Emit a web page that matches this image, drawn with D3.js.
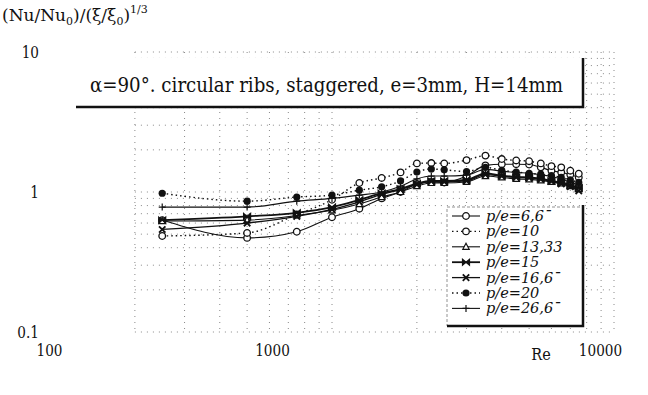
<!DOCTYPE html>
<html>
<head>
<meta charset="utf-8">
<script src="https://cdn.jsdelivr.net/npm/d3@7"></script>
<style>
  body { margin: 0; background: #fff; }
</style>
</head>
<body>
<div id="chart"></div>
<script>
// Reynolds numbers where points were measured
const reValues = [250, 500, 750, 1000, 1250, 1500, 1750, 2000, 2250, 2500, 3000, 3500, 4000, 4500, 5000, 5500, 6000, 6500, 7000, 7500]

// (Nu/Nu0)/(xi/xi0)^1/3 for each p/e
const pe667 = [0.63, 0.47, 0.52, 0.66, 0.76, 0.9, 1.0, 1.14, 1.18, 1.17, 1.3, 1.55, 1.58, 1.58, 1.57, 1.5, 1.42, 1.38, 1.33, 1.27]
const pe10 = [0.485, 0.51, 0.69, 0.88, 1.16, 1.26, 1.38, 1.6, 1.61, 1.6, 1.69, 1.82, 1.72, 1.68, 1.66, 1.6, 1.53, 1.5, 1.42, 1.35]
const pe1333 = [0.62, 0.63, 0.68, 0.74, 0.82, 0.92, 1.0, 1.1, 1.16, 1.16, 1.18, 1.3, 1.27, 1.24, 1.23, 1.21, 1.18, 1.15, 1.1, 1.05]
const pe15 = [0.63, 0.67, 0.71, 0.78, 0.88, 0.98, 1.05, 1.15, 1.2, 1.2, 1.22, 1.36, 1.31, 1.28, 1.27, 1.25, 1.2, 1.17, 1.12, 1.07]
const pe1667 = [0.54, 0.6, 0.67, 0.75, 0.85, 0.96, 1.04, 1.13, 1.19, 1.18, 1.2, 1.33, 1.3, 1.27, 1.26, 1.23, 1.19, 1.14, 1.09, 1.02]
const pe20 = [0.98, 0.86, 0.92, 0.95, 1.03, 1.09, 1.2, 1.39, 1.46, 1.44, 1.4, 1.5, 1.43, 1.39, 1.36, 1.34, 1.31, 1.27, 1.22, 1.17]
const pe2667 = [0.78, 0.78, 0.86, 0.9, 0.95, 1.0, 1.1, 1.24, 1.3, 1.3, 1.32, 1.45, 1.41, 1.38, 1.36, 1.33, 1.29, 1.24, 1.18, 1.12]

const seriesNames = ['6,6¯', '10', '13,33', '15', '16,6¯', '20', '26,6¯']
const seriesValues = [pe667, pe10, pe1333, pe15, pe1667, pe20, pe2667]

const xTickLabels = [100, 1000, 10000]
const yTickLabels = [0.1, 1, 10]
const titleText = 'α=90°. circular ribs, staggered, e=3mm, H=14mm'

const width = 648
const height = 395
const serif = 'DejaVu Serif'

const x = d3.scaleLog().domain([100, 10000]).range([50, 614])
const y = d3.scaleLog().domain([0.1, 10]).range([332, 52])
// printed label row of the scan is not aligned with the grid
const xLabel = d3.scaleLog().domain([100, 1000, 10000]).range([49, 272, 600])

const svg = d3.select('#chart').append('svg')
  .attr('width', width)
  .attr('height', height)
  .attr('font-family', serif)
  .style('display', 'block')

// squeeze DejaVu Serif towards the narrow Times look of the scan
function condense(sel, k) {
  sel.each(function () {
    const w = this.getComputedTextLength()
    d3.select(this)
      .attr('textLength', w * k)
      .attr('lengthAdjust', 'spacingAndGlyphs')
  })
}

// faint dotted grid
const grid = svg.append('g').attr('class', 'grid')
  .attr('stroke', '#888')
  .attr('stroke-width', 1)
  .attr('stroke-dasharray', '1,5')
const xGrid = d3.range(2, 10).map(d => d * 100).concat(d3.range(1, 11).map(d => d * 1000))
const yGrid = d3.range(1, 10).map(d => d * 0.1).concat(d3.range(1, 11))
grid.selectAll('.vx')
  .data(xGrid)
  .join('line')
  .attr('x1', d => x(d)).attr('x2', d => x(d))
  .attr('y1', y(10)).attr('y2', y(0.1))
grid.selectAll('.hy')
  .data(yGrid)
  .join('line')
  .attr('x1', x(200)).attr('x2', x(10000))
  .attr('y1', d => y(d)).attr('y2', d => y(d))

// y axis labels
const yAxis = d3.axisLeft(y).tickValues(yTickLabels).tickSize(0).tickPadding(0)
  .tickFormat(d => d === 0.1 ? '0.1' : String(d))
svg.append('g')
  .attr('transform', 'translate(39,0)')
  .call(yAxis)
  .attr('font-family', serif)
  .call(g => g.select('.domain').remove())
  .call(g => g.selectAll('text')
    .attr('font-size', 17)
    .attr('fill', '#111')
    .call(condense, 0.8))

// x axis labels
const xAxis = d3.axisBottom(xLabel).tickValues(xTickLabels).tickSize(0).tickPadding(0)
  .tickFormat(d => String(d))
svg.append('g')
  .attr('transform', 'translate(0,344)')
  .call(xAxis)
  .attr('font-family', serif)
  .call(g => g.select('.domain').remove())
  .call(g => g.selectAll('text')
    .attr('font-size', 17)
    .attr('fill', '#111')
    .call(condense, 0.8))

svg.append('text')
  .attr('x', 541).attr('y', 360)
  .attr('text-anchor', 'middle')
  .attr('font-size', 17)
  .attr('fill', '#111')
  .text('Re')
  .call(condense, 0.85)

// y axis title
const yt = svg.append('text')
  .attr('x', 2).attr('y', 21)
  .attr('font-size', 17)
  .attr('fill', '#111')
yt.append('tspan').text('(Nu/Nu')
yt.append('tspan').attr('font-size', 11).attr('dy', 4).text('0')
yt.append('tspan').attr('dy', -4).text(')/(ξ/ξ')
yt.append('tspan').attr('font-size', 11).attr('dy', 4).text('0')
yt.append('tspan').attr('dy', -4).text(')')
yt.append('tspan').attr('font-size', 11).attr('dy', -8).text('1/3')

// title box
svg.append('rect')
  .attr('x', 76).attr('y', 58).attr('width', 507).attr('height', 49)
  .attr('fill', '#fff')
svg.append('path')
  .attr('d', 'M76,107H583V58')
  .attr('fill', 'none')
  .attr('stroke', '#111')
  .attr('stroke-width', 2.5)
svg.append('text')
  .attr('x', 90).attr('y', 92)
  .attr('font-size', 21)
  .attr('fill', '#111')
  .attr('textLength', 473)
  .attr('lengthAdjust', 'spacingAndGlyphs')
  .text(titleText)

// series
const line = d3.line()
  .x(d => x(d[0]))
  .y(d => y(d[1]))
  .curve(d3.curveMonotoneX)

const styles = [
  { dash: null, w: 1.1, marker: 'openCircle' },
  { dash: '1.5,3', w: 1.4, marker: 'openCircle' },
  { dash: null, w: 1.1, marker: 'triangle' },
  { dash: null, w: 1.8, marker: 'bowtie' },
  { dash: null, w: 1.3, marker: 'cross' },
  { dash: '1.5,3', w: 1.4, marker: 'dot' },
  { dash: null, w: 1.1, marker: 'plus' }
]

function drawMarker(g, kind) {
  if (kind === 'openCircle') {
    g.append('circle').attr('r', 3.3).attr('fill', '#fff').attr('stroke', '#111').attr('stroke-width', 1.3)
  } else if (kind === 'dot') {
    g.append('circle').attr('r', 3.6).attr('fill', '#111')
  } else if (kind === 'triangle') {
    g.append('path').attr('d', 'M0,-3.5L3.2,2.5L-3.2,2.5Z').attr('fill', '#fff').attr('stroke', '#111').attr('stroke-width', 1.2)
  } else if (kind === 'bowtie') {
    g.append('path').attr('d', 'M-3.5,-3L3.5,3V-3L-3.5,3Z').attr('fill', '#111').attr('stroke', '#111').attr('stroke-width', 1.2)
  } else if (kind === 'cross') {
    g.append('path').attr('d', 'M-3.2,-3.2L3.2,3.2M-3.2,3.2L3.2,-3.2').attr('stroke', '#111').attr('stroke-width', 1.8)
  } else if (kind === 'plus') {
    g.append('path').attr('d', 'M-3.5,0H3.5M0,-3.5V3.5').attr('stroke', '#111').attr('stroke-width', 1.2)
  }
}

const plot = svg.append('g').attr('class', 'series')
seriesValues.forEach((vals, i) => {
  const pts = reValues.map((r, j) => [r, vals[j]])
  const st = styles[i]
  plot.append('path')
    .datum(pts)
    .attr('fill', 'none')
    .attr('stroke', '#111')
    .attr('stroke-width', st.w)
    .attr('stroke-dasharray', st.dash)
    .attr('d', line)
  plot.selectAll('.m' + i)
    .data(pts)
    .join('g')
    .attr('class', 'm' + i)
    .attr('transform', d => `translate(${x(d[0])},${y(d[1])})`)
    .each(function () { drawMarker(d3.select(this), st.marker) })
})

// legend
const legend = svg.append('g').attr('class', 'legend')
legend.append('rect')
  .attr('x', 447).attr('y', 207).attr('width', 136).attr('height', 119)
  .attr('fill', '#fff')
  .attr('stroke', '#777')
  .attr('stroke-width', 0.8)
  .attr('stroke-dasharray', '3,2')
legend.append('path')
  .attr('d', 'M447,326H583V205')
  .attr('fill', 'none')
  .attr('stroke', '#111')
  .attr('stroke-width', 2.5)

seriesNames.forEach((name, i) => {
  const ly = 216 + i * 15.4
  const st = styles[i]
  legend.append('line')
    .attr('x1', 452).attr('x2', 480)
    .attr('y1', ly).attr('y2', ly)
    .attr('stroke', '#111')
    .attr('stroke-width', st.w)
    .attr('stroke-dasharray', st.dash)
  const mg = legend.append('g').attr('transform', `translate(466,${ly})`)
  drawMarker(mg, st.marker)
  legend.append('text')
    .attr('x', 486).attr('y', ly + 5)
    .attr('font-size', 14.5)
    .attr('font-style', 'italic')
    .attr('fill', '#111')
    .text('p/e=' + name)
})
</script>
</body>
</html>
